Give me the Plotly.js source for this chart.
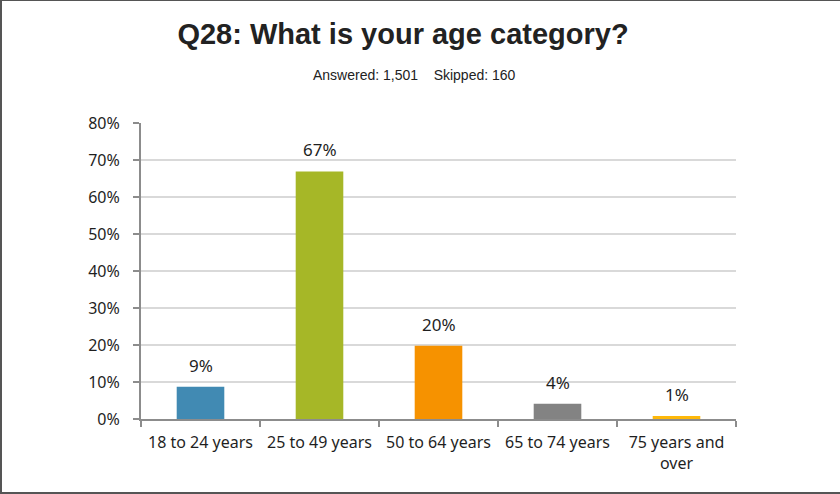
<!DOCTYPE html>
<html>
<head>
<meta charset="utf-8">
<script src="https://cdn.plot.ly/plotly-3.0.1.min.js"></script>
<style>
html,body{margin:0;padding:0;background:#fff;overflow:hidden;}
#chart{width:840px;height:494px;box-sizing:border-box;border-left:2px solid #555;border-top:1px solid #555;border-bottom:2px solid #555;}
</style>
</head>
<body>
<div id="chart"></div>
<script>
const categories = ["18 to 24 years", "25 to 49 years", "50 to 64 years", "65 to 74 years", "75 years and<br>over"];
const values = [0.087, 0.669, 0.198, 0.041, 0.008];
const labels = ["9%", "67%", "20%", "4%", "1%"];
const colors = ["#418ab3", "#a6b727", "#f69200", "#838383", "#feb80a"];
const yTickVals = [0, 0.1, 0.2, 0.3, 0.4, 0.5, 0.6, 0.7, 0.8];
const yTickText = ["0%", "10%", "20%", "30%", "40%", "50%", "60%", "70%", "80%"];

const tickFont = {family: "Noto Sans, Open Sans, sans-serif", size: 16, color: "#1f1f1f"};
const lblFont = {family: "Noto Sans, Open Sans, sans-serif", size: 17, color: "#1f1f1f"};

const W = 836, H = 491, ML = 139, MR = 102, MT = 122, MB = 73;

const trace = {
  type: "bar",
  x: categories,
  y: values,
  marker: {color: colors},
  hoverinfo: "skip"
};

const annotations = categories.map((c, i) => ({
  x: c, y: values[i], xref: "x", yref: "y",
  text: labels[i], showarrow: false,
  yanchor: "bottom", yshift: 8,
  font: lblFont
}));
annotations.push({
  xref: "paper", yref: "paper",
  x: (412 - ML) / (W - ML - MR),
  y: 1 + (MT - 74) / (H - MT - MB),
  xanchor: "center", yanchor: "middle",
  text: "Answered: 1,501&nbsp;&nbsp;&nbsp;&nbsp;Skipped: 160",
  showarrow: false,
  font: {family: "Liberation Sans, Arial, sans-serif", size: 14, color: "#222"}
});

const layout = {
  width: W, height: H,
  margin: {l: ML, r: MR, t: MT, b: MB},
  paper_bgcolor: "#fff",
  plot_bgcolor: "#fff",
  title: {
    text: "<b>Q28: What is your age category?</b>",
    xref: "container", yref: "container",
    x: 401/W, y: 1 - 33/H, xanchor: "center", yanchor: "middle",
    font: {family: "Liberation Sans, Arial, sans-serif", size: 29, color: "#222"}
  },
  bargap: 0.6,
  showlegend: false,
  xaxis: {
    type: "category",
    showline: true, linecolor: "#8c8c8c", linewidth: 2,
    ticks: "outside", ticklen: 6, tickcolor: "#8c8c8c", tickwidth: 1.5,
    tickson: "boundaries",
    ticklabelstandoff: 8,
    tickfont: tickFont,
    showgrid: false,
    fixedrange: true
  },
  yaxis: {
    range: [0, 0.8],
    tickvals: yTickVals, ticktext: yTickText,
    showline: true, linecolor: "#8c8c8c", linewidth: 2,
    ticks: "outside", ticklen: 6, tickcolor: "#8c8c8c", tickwidth: 1.5,
    ticklabelstandoff: 10,
    showgrid: true, gridcolor: "#d9d9d9", gridwidth: 1.5,
    zeroline: false,
    tickfont: tickFont,
    fixedrange: true
  },
  annotations: annotations
};

Plotly.newPlot("chart", [trace], layout, {displayModeBar: false, staticPlot: true});
</script>
</body>
</html>
